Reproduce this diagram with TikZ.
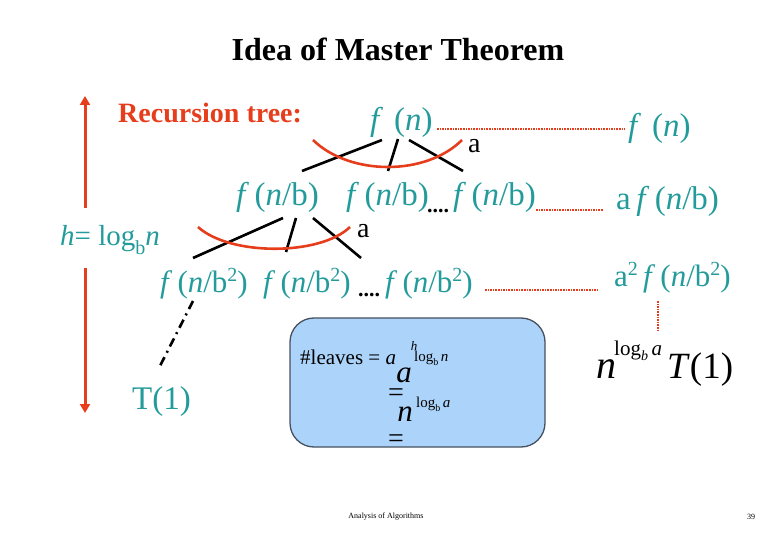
\documentclass[tikz,border=0pt]{standalone}
\usepackage{fontspec}
\setmainfont{Liberation Serif}
\usetikzlibrary{arrows.meta}
\definecolor{tealtxt}{RGB}{36,155,155}
\definecolor{redo}{RGB}{230,62,28}
\definecolor{boxblue}{RGB}{172,212,250}
\definecolor{boxedge}{RGB}{70,80,95}
\newcommand{\fsz}[1]{\fontsize{#1}{#1}\selectfont}
\newcommand{\sqtwo}{\raisebox{0.36em}{\fsz{20}2}}
\newcommand{\ffn}{\textit{f}\,(}
\begin{document}
\begin{tikzpicture}[x=1pt,y=-1pt,
  every node/.style={inner sep=0pt},
  tl/.style={text=tealtxt, font=\fsz{33}},
  tls/.style={text=tealtxt, font=\fsz{31}},
  blk/.style={text=black},
  branch/.style={draw=black, line width=2.6pt},
  arcred/.style={draw=redo, line width=2.6pt},
  reddot/.style={draw=redo, line width=2.6pt, dash pattern=on 1.6pt off 1pt},
  bigarrow/.style={draw=redo, line width=3pt, -{Triangle[length=9pt,width=10pt]}},
  dots/.style={font=\bfseries\fsz{22}},
  boxtxt/.style={font=\fsz{21}},
  boxeq/.style={font=\fsz{28}}
]
\useasboundingbox (0,0) rectangle (780,540);

% title
\node[font=\bfseries\fsz{32}] (title) at (398,49) {Idea of Master Theorem};
\node[text=redo, font=\bfseries\fsz{28}, anchor=west] (rt) at (118,113) {Recursion tree:};

% left height arrow
\coordinate (hTop) at (85,96);
\coordinate (hTopS) at (85,208);
\coordinate (hBotS) at (85,268);
\coordinate (hBot) at (85,413);
\draw[bigarrow] (hTopS) -- (hTop);
\draw[bigarrow] (hBotS) -- (hBot);
\node[text=tealtxt, font=\fsz{29}, anchor=west] (hlab) at (60,240) {\textit{h}= log\raisebox{-0.28em}{\fsz{20}b}\textit{n}};

% level 1
\node[tl, anchor=west] (fn) at (370,122) {\textit{f}\,\,(\textit{n})};
\node[blk, font=\fsz{28}, anchor=west] (a1) at (468,146) {a};
\node[tl, anchor=west] (fnr) at (628,128) {\textit{f}\,\,(\textit{n})};
\coordinate (d1s) at (437,129);
\coordinate (d1e) at (625,129);
\draw[reddot] (d1s) -- (d1e);

\coordinate (b1a) at (382,140); \coordinate (b1b) at (302,171);
\coordinate (b1c) at (398,139); \coordinate (b1d) at (388,171);
\coordinate (b1e) at (409,140); \coordinate (b1f) at (463,171);
\draw[branch] (b1a) -- (b1b);
\draw[branch] (b1c) -- (b1d);
\draw[branch] (b1e) -- (b1f);
\coordinate (r1a) at (313,140); \coordinate (r1b) at (462,140);
\draw[arcred] (r1a) .. controls (350,176) and (426,176) .. (r1b);

% level 2
\node[tl, anchor=west] (l2a) at (236,197) {\ffn\textit{n}/b)};
\node[tl, anchor=west] (l2b) at (346,197) {\ffn\textit{n}/b)};
\node[dots, anchor=base west] (l2d) at (427,213) {....};
\node[tl, anchor=west] (l2c) at (453,197) {\ffn\textit{n}/b)};
\coordinate (d2s) at (536,210);
\coordinate (d2e) at (603,210);
\draw[reddot] (d2s) -- (d2e);
\node[tl, anchor=west] (l2r) at (616,201) {a\,\textit{f}\,(\textit{n}/b)};

\coordinate (b2a) at (283,218); \coordinate (b2b) at (193,258);
\coordinate (b2c) at (296,218); \coordinate (b2d) at (286,252);
\coordinate (b2e) at (313,218); \coordinate (b2f) at (361,258);
\draw[branch] (b2a) -- (b2b);
\draw[branch] (b2c) -- (b2d);
\draw[branch] (b2e) -- (b2f);
\coordinate (r2a) at (198,227); \coordinate (r2b) at (350,227);
\draw[arcred] (r2a) .. controls (230,256) and (320,256) .. (r2b);
\node[blk, font=\fsz{28}, anchor=west] (a2) at (357,231) {a};

% level 3
\node[tls, anchor=west] (l3a) at (160,284) {\ffn\textit{n}/b\sqtwo)};
\node[tls, anchor=west] (l3b) at (263,284) {\ffn\textit{n}/b\sqtwo)};
\node[dots, anchor=base west] (l3d) at (358,297) {....};
\node[tls, anchor=west] (l3c) at (385,284) {\ffn\textit{n}/b\sqtwo)};
\coordinate (d3s) at (485,290);
\coordinate (d3e) at (598,290);
\draw[reddot] (d3s) -- (d3e);
\node[tls, anchor=west] (l3r) at (614,278) {a\sqtwo\,\textit{f}\,(\textit{n}/b\sqtwo)};
\coordinate (v3s) at (658,301);
\coordinate (v3e) at (658,331);
\draw[reddot] (v3s) -- (v3e);

% leaves
\coordinate (dd1) at (193,301); \coordinate (dd2) at (160,366);
\draw[draw=black, line width=2.6pt, dash pattern=on 9pt off 5pt on 2pt off 5pt] (dd1) -- (dd2);
\node[tl, anchor=west] (t1) at (132,402) {T(1)};

% box
\node[draw=boxedge, line width=1.3pt, fill=boxblue, rounded corners=24pt,
      minimum width=255pt, minimum height=129pt] (box) at (417.5,382.5) {};
\node[boxtxt, anchor=west] (lv) at (300,357) {\#leaves = \textit{a}};
\node[font=\itshape\fsz{13}] (hsup) at (414,346) {h};
\node[font=\fsz{15}, anchor=west] (lgn) at (414,358) {log\raisebox{-0.25em}{\fsz{10}b}\,\textit{n}};
\node[font=\itshape\fsz{31}] (biga) at (404,375) {a};
\node[boxeq] (eq1) at (396,395) {=};
\node[font=\itshape\fsz{31}] (bign) at (405,414) {n};
\node[font=\fsz{15}, anchor=west] (lga) at (416,404) {log\raisebox{-0.25em}{\fsz{10}b}\,\textit{a}};
\node[boxeq] (eq2) at (396,441) {=};

% right leaves cost
\node[font=\itshape\fsz{40}] (rn) at (606,369) {n};
\node[font=\fsz{21}, anchor=west] (rlg) at (614,351) {log\raisebox{-0.25em}{\fsz{14}\textit{b}}\,\textit{a}};
\node[font=\fsz{37}, anchor=west] (rt1) at (667,370) {\textit{T}(1)};

% footer
\node[font=\fsz{8}] (foot) at (386,517) {Analysis of Algorithms};
\node[font=\fsz{8}] (pg) at (751,517) {39};
\end{tikzpicture}
\end{document}
